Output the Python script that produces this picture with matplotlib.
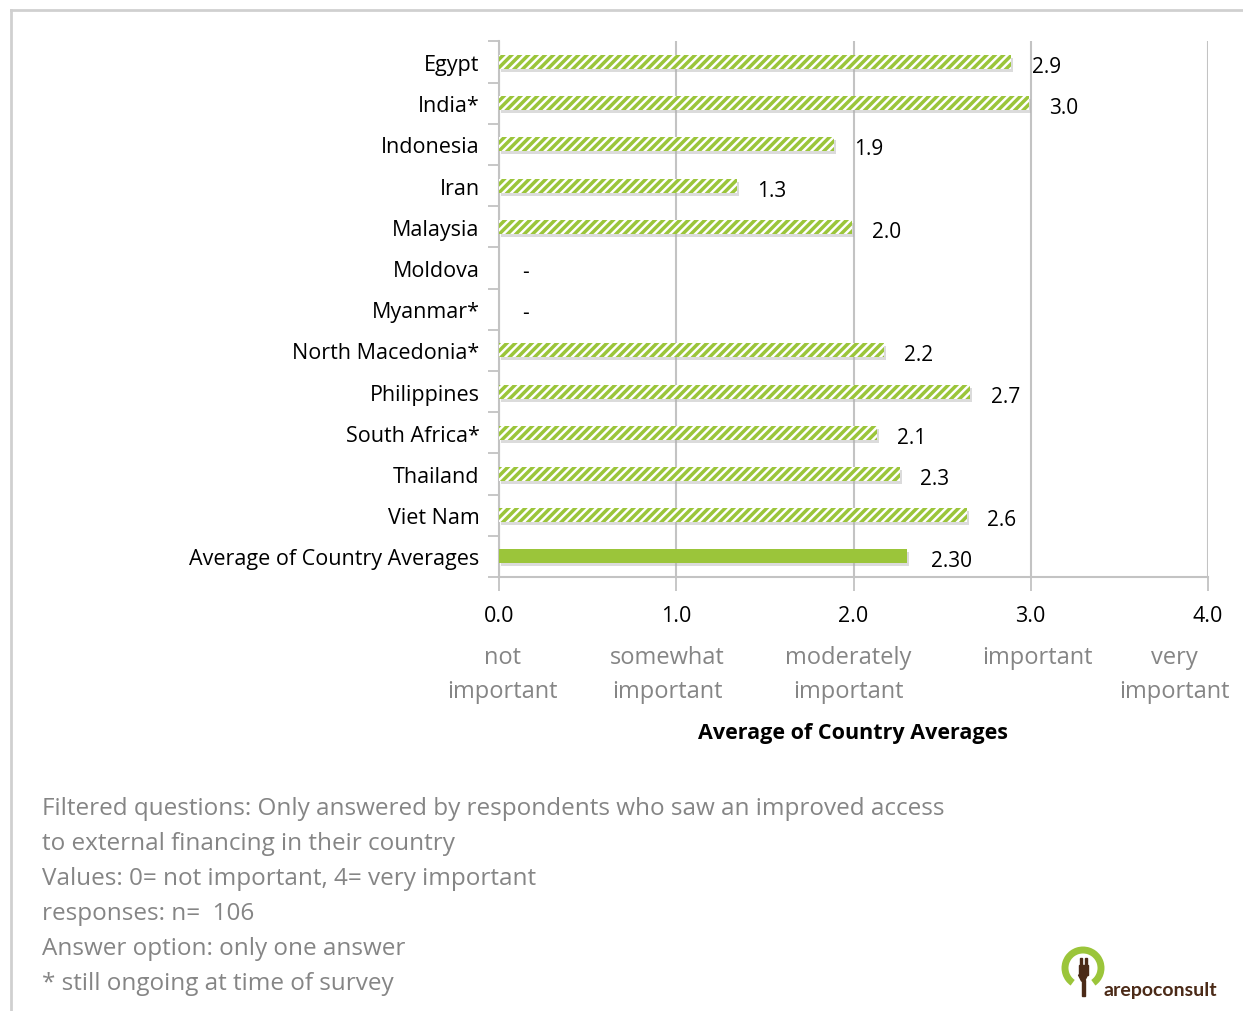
import matplotlib
matplotlib.use("Agg")
import matplotlib.pyplot as plt
import matplotlib.transforms as mtransforms
from matplotlib.patches import Arc, Rectangle, Polygon

plt.rcParams['font.family'] = ['Open Sans', 'DejaVu Sans']
plt.rcParams['hatch.linewidth'] = 2.5

# Survey results: average importance by country (0 = not important, 4 = very important)
countries = ["Egypt", "India*", "Indonesia", "Iran", "Malaysia", "Moldova", "Myanmar*",
             "North Macedonia*", "Philippines", "South Africa*", "Thailand", "Viet Nam"]
country_values = [2.89, 2.99, 1.89, 1.34, 1.99, None, None, 2.17, 2.66, 2.13, 2.26, 2.64]
average_label = "Average of Country Averages"
average_value = 2.30

x_ticks = [0, 1, 2, 3, 4]
scale_labels = ["not\nimportant", "somewhat\nimportant", "moderately\nimportant",
                "important", "very\nimportant"]
scale_label_pos = [0.02, 0.95, 1.97, 3.035, 3.81]

notes = ["Filtered questions: Only answered by respondents who saw an improved access",
         "to external financing in their country",
         "Values: 0= not important, 4= very important",
         "responses: n=  106",
         "Answer option: only one answer",
         "* still ongoing at time of survey"]

GREEN = "#9BC53A"
GRID = "#c3c3c3"
GREY_TXT = "#858585"

W, H = 1243, 1012
fig = plt.figure(figsize=(W / 100, H / 100), dpi=100)
ax = fig.add_axes([499 / W, 1 - 578 / H, (1208 - 499) / W, (578 - 42.3) / H])

labels = countries + [average_label]
n = len(labels)
ypos = list(range(n))
bar_h = 0.34

# soft shadow under every bar
shadow_tr = mtransforms.offset_copy(ax.transData, fig=fig, x=2, y=-3, units='dots')
for i, v in enumerate(country_values + [average_value]):
    if v is None:
        continue
    ax.barh(i, v, height=bar_h, color="#b0b0b0", alpha=0.45, linewidth=0,
            transform=shadow_tr, zorder=2)

# hatched country bars
for i, v in enumerate(country_values):
    if v is None:
        ax.text(0.13, i + 0.08, "-", va='center', ha='left', fontsize=15, color='black')
        continue
    ax.barh(i, v, height=bar_h, facecolor='white', edgecolor=GREEN, linewidth=0,
            hatch='////', zorder=3)
    ax.text(v + 0.115, i + 0.11, f"{v:.1f}", va='center', ha='left', fontsize=15,
            color='black')

# solid bar for the overall average
ax.barh(n - 1, average_value, height=bar_h, color=GREEN, linewidth=0, zorder=3)
ax.text(average_value + 0.135, n - 1 + 0.11, f"{average_value:.2f}", va='center',
        ha='left', fontsize=15, color='black')

ax.set_xlim(0, 4)
ax.set_ylim(n - 0.5, -0.5)
ax.set_xticks(x_ticks)
ax.set_xticklabels([f"{t:.1f}" for t in x_ticks], fontsize=15.5)
ax.set_yticks(ypos)
ax.set_yticklabels(labels, fontsize=15.5)
ax.tick_params(axis='y', length=0, pad=14)
ax.set_yticks([i - 0.5 for i in range(n + 1)], minor=True)
ax.tick_params(axis='y', which='minor', length=8, width=1.3, color=GRID)
ax.tick_params(axis='x', length=10, width=1.3, color=GRID, pad=10)

for s in ['top', 'right']:
    ax.spines[s].set_visible(False)
for s in ['left', 'bottom']:
    ax.spines[s].set_color(GRID)
    ax.spines[s].set_linewidth(1.5)
ax.xaxis.grid(True, color=GRID, linewidth=1.5, zorder=0)
ax.set_axisbelow(True)

# verbal scale under the numeric ticks
for lab, xp in zip(scale_labels, scale_label_pos):
    ax.text(xp, 1 - (646 - 42.3) / (578 - 42.3), lab, transform=ax.get_xaxis_transform(),
            ha='center', va='top', fontsize=17, color=GREY_TXT, linespacing=1.58)

fig.text(853 / W, 1 - 733 / H, "Average of Country Averages", ha='center', va='center',
         fontsize=15.5, fontweight='bold')

# notes
for k, line in enumerate(notes):
    fig.text(42 / W, 1 - (809 + 35 * k) / H, line, ha='left', va='center',
             fontsize=17.5, color=GREY_TXT)

# frame lines
fig.add_artist(plt.Line2D([11 / W, 1], [1 - 11 / H, 1 - 11 / H], color="#d0d0d0", lw=2))
fig.add_artist(plt.Line2D([11 / W, 11 / W], [0, 1 - 11 / H], color="#d0d0d0", lw=2))

# logo
BROWN = "#4b2a17"
lax = fig.add_axes([1055 / W, 1 - 1005 / H, 60 / W, 60 / H])
lax.set_xlim(1055, 1115)
lax.set_ylim(1005, 945)
lax.set_aspect('equal')
lax.axis('off')
lax.add_patch(Arc((1083, 969), 36, 36, theta1=125, theta2=415, lw=5, color="#9BC53A"))
lax.add_patch(Rectangle((1078.5, 966), 9, 10, color=BROWN))
lax.add_patch(Rectangle((1079.5, 959), 2, 8, color=BROWN))
lax.add_patch(Rectangle((1084.5, 959), 2, 8, color=BROWN))
lax.add_patch(Polygon([[1078.5, 976], [1087.5, 976], [1084.5, 982], [1081.5, 982]], color=BROWN))
lax.add_patch(Rectangle((1081.5, 981), 3, 16, color=BROWN))
fig.text(1104 / W, 1 - 991 / H, "arepoconsult", ha='left', va='center', fontsize=14,
         color=BROWN, fontweight='bold', family=['Lato', 'DejaVu Sans'])

fig.savefig("out.png", dpi=100)
